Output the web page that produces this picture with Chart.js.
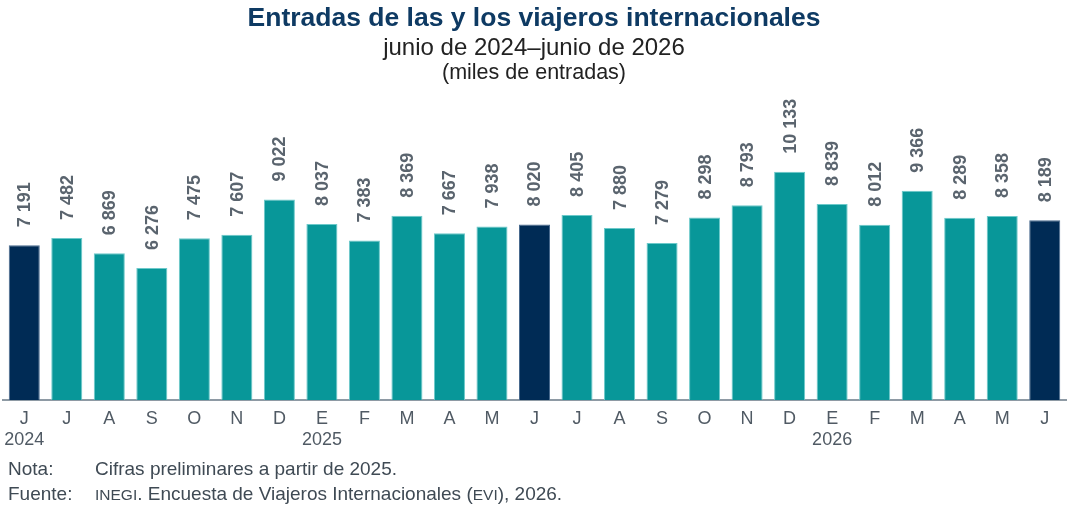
<!DOCTYPE html>
<html lang="es">
<head>
<meta charset="utf-8">
<title>Entradas de las y los viajeros internacionales</title>
<script src="https://cdn.jsdelivr.net/npm/chart.js@4.4.1/dist/chart.umd.min.js"></script>
<style>
  html, body { margin: 0; padding: 0; background: #fff; }
  body { width: 1068px; height: 511px; position: relative; overflow: hidden;
         font-family: "Liberation Sans", Arial, sans-serif; }
  #chart { position: absolute; left: 0; top: 0; }
  .title { position: absolute; left: 0; width: 1068px; text-align: center; white-space: nowrap; line-height: 1.15; }
  .t1 { top: 2px; font-size: 26.5px; font-weight: bold; color: #0e3a63; }
  .t2 { top: 33px; font-size: 24px; color: #222; }
  .t3 { top: 60px; font-size: 21.5px; color: #222; }
  .note { position: absolute; left: 8px; font-size: 19px; line-height: 1.15; color: #3f4a54; white-space: nowrap; }
  .note span.lab { display: inline-block; width: 87px; }
  .sc { font-size: 15.5px; }
</style>
</head>
<body>
<canvas id="chart" width="1068" height="511"></canvas>
<div class="title t1">Entradas de las y los viajeros internacionales</div>
<div class="title t2">junio de 2024–junio de 2026</div>
<div class="title t3">(miles de entradas)</div>
<div class="note" style="top:458px"><span class="lab">Nota:</span>Cifras preliminares a partir de 2025.</div>
<div class="note" style="top:483px"><span class="lab">Fuente:</span><span class="sc">INEGI</span>. Encuesta de Viajeros Internacionales (<span class="sc">EVI</span>), 2026.</div>
<script>
// meses jun 2024 - jun 2026
const months = ['J', 'J', 'A', 'S', 'O', 'N', 'D', 'E', 'F', 'M', 'A', 'M', 'J',
                'J', 'A', 'S', 'O', 'N', 'D', 'E', 'F', 'M', 'A', 'M', 'J'];
const years = ['2024', '', '', '', '', '', '', '2025', '', '', '', '', '',
               '', '', '', '', '', '', '2026', '', '', '', '', ''];
// miles de entradas
const entradas = [7191, 7482, 6869, 6276, 7475, 7607, 9022, 8037, 7383, 8369, 7667, 7938, 8020,
                  8405, 7880, 7279, 8298, 8793, 10133, 8839, 8012, 9366, 8289, 8358, 8189];

const NAVY = '#002b55';
const TEAL = '#089799';

const labels = months.map((m, i) => years[i] ? [m, years[i]] : m);
const isJune = i => i === 0 || i === 12 || i === 24;

const fmt = v => String(v).replace(/\B(?=(\d{3})+(?!\d))/g, ' ');

const valueLabels = {
  id: 'valueLabels',
  afterDatasetsDraw(chart) {
    const ctx = chart.ctx;
    const meta = chart.getDatasetMeta(0);
    ctx.save();
    ctx.font = 'bold 18px "Liberation Sans", Arial, sans-serif';
    ctx.fillStyle = '#5a646e';
    ctx.textAlign = 'left';
    ctx.textBaseline = 'middle';
    meta.data.forEach((bar, i) => {
      ctx.save();
      ctx.translate(bar.x, bar.y - 18);
      ctx.rotate(-Math.PI / 2);
      ctx.fillText(fmt(entradas[i]), 0, 1);
      ctx.restore();
    });
    ctx.restore();
  }
};

new Chart(document.getElementById('chart'), {
  type: 'bar',
  data: {
    labels,
    datasets: [{
      data: entradas,
      backgroundColor: entradas.map((_, i) => isJune(i) ? NAVY : TEAL),
      borderColor: entradas.map((_, i) => isJune(i) ? '#4a6b8f' : '#6cc9ca'),
      borderWidth: 1,
      barPercentage: 0.73,
      categoryPercentage: 1
    }]
  },
  options: {
    responsive: false,
    animation: false,
    layout: { padding: { top: 125, left: 3, right: 2, bottom: 0 } },
    plugins: {
      legend: { display: false },
      tooltip: { enabled: false },
      title: { display: false }
    },
    scales: {
      x: {
        grid: { display: false },
        border: { display: true, color: '#8e9aa4', width: 2 },
        ticks: {
          color: '#505a64',
          font: { family: '"Liberation Sans", Arial, sans-serif', size: 18 },
          padding: 0,
          maxRotation: 0,
          autoSkip: false
        },
        afterFit(scale) { scale.height = 111; }
      },
      y: {
        display: false,
        min: 1000,
        max: 12000
      }
    }
  },
  plugins: [valueLabels]
});
</script>
</body>
</html>
